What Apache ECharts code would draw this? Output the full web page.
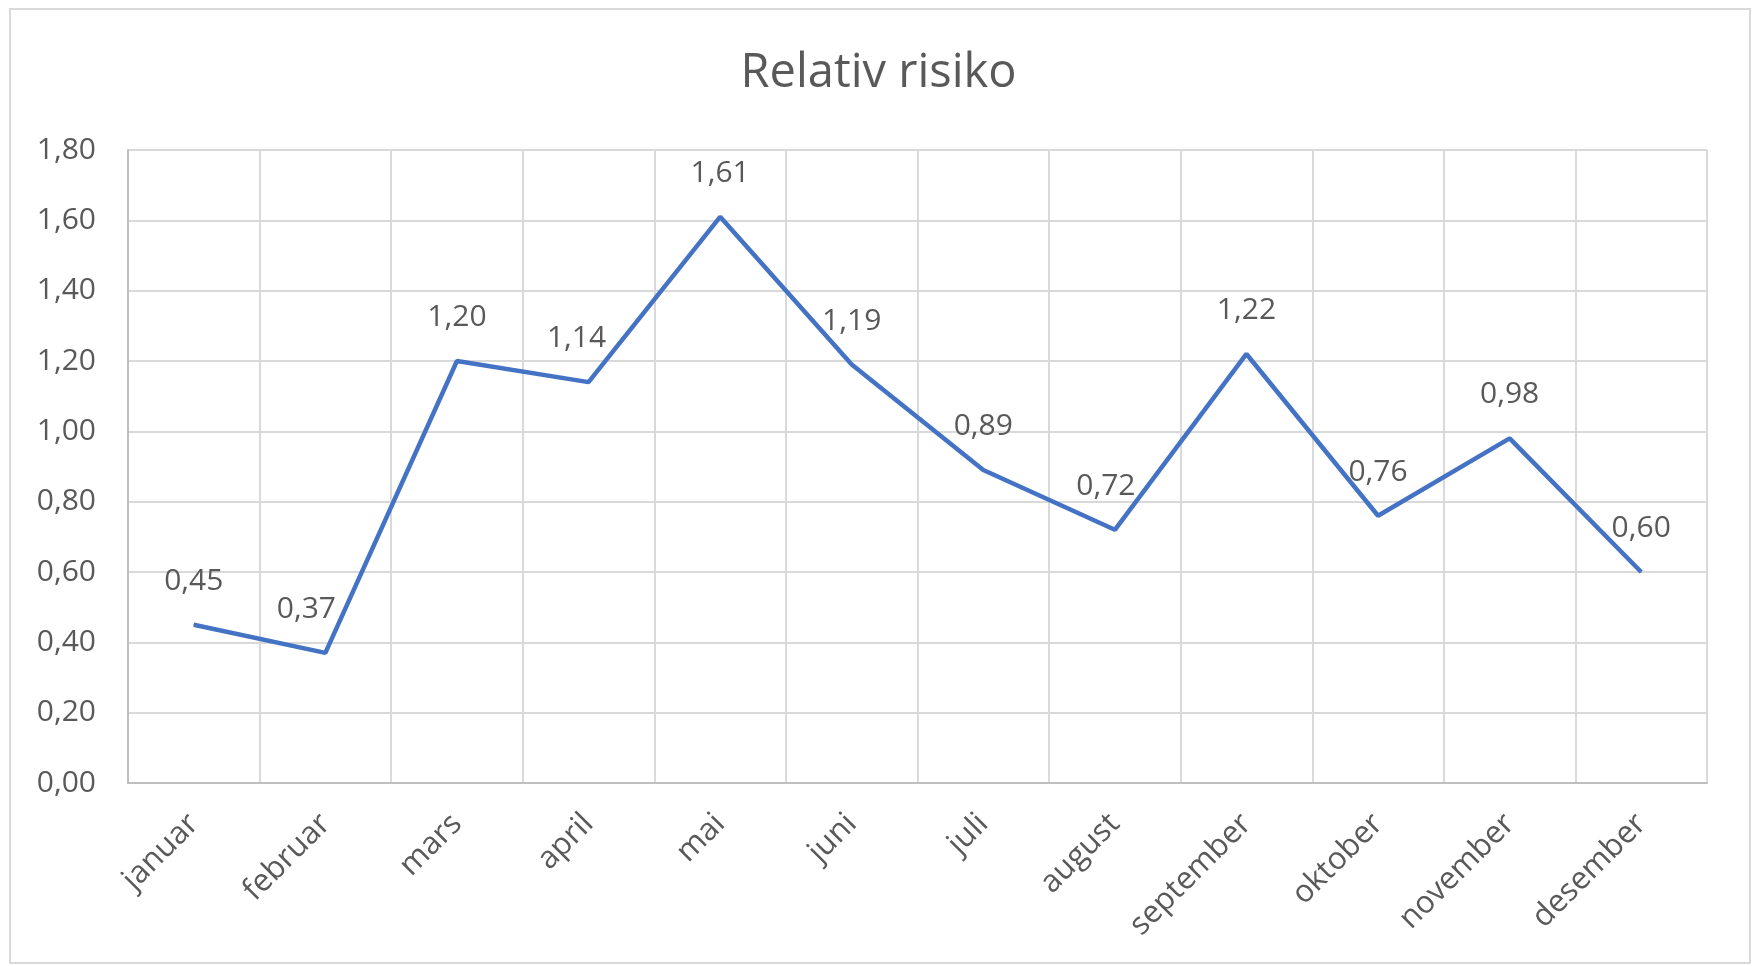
<!DOCTYPE html>
<html>
<head>
<meta charset="utf-8">
<script src="https://cdn.jsdelivr.net/npm/echarts@6/dist/echarts.min.js"></script>
<style>
  html, body { margin: 0; padding: 0; background: #fff; }
  #chart { width: 1757px; height: 966px; }
</style>
</head>
<body>
<div id="chart"></div>
<script>
const months = ["januar", "februar", "mars", "april", "mai", "juni", "juli", "august", "september", "oktober", "november", "desember"]
const risk = [0.45, 0.37, 1.20, 1.14, 1.61, 1.19, 0.89, 0.72, 1.22, 0.76, 0.98, 0.60]

// labels Excel pushed a little to the left
const nudged = { 1: -19, 3: -12, 7: -9 }

const fmt = v => v.toFixed(2).replace(".", ",")
const grey = "#595959"

const chart = echarts.init(document.getElementById("chart"))
chart.setOption({
  animation: false,
  backgroundColor: "#fff",
  textStyle: { fontFamily: "Open Sans" },
  title: {
    text: "Relativ risiko",
    left: "center",
    top: 50,
    padding: 0,
    textStyle: { color: grey, fontSize: 47, fontWeight: "normal", fontFamily: "Open Sans" },
  },
  graphic: [
    {
      type: "rect",
      shape: { x: 10, y: 9, width: 1740, height: 954 },
      style: { fill: "none", stroke: "#d9d9d9", lineWidth: 2 },
      silent: true,
    },
  ],
  grid: { left: 128, right: 50, top: 150, bottom: 183 },
  xAxis: {
    type: "category",
    data: months,
    boundaryGap: true,
    axisLine: { lineStyle: { color: "#bfbfbf", width: 2 } },
    axisTick: { show: false },
    splitLine: { show: true, lineStyle: { color: "#d9d9d9", width: 2 } },
    axisLabel: { rotate: 45, margin: 36, color: grey, fontSize: 31, interval: 0 },
  },
  yAxis: {
    type: "value",
    min: 0,
    max: 1.8,
    interval: 0.2,
    axisLine: { show: true, lineStyle: { color: "#bfbfbf", width: 2 } },
    axisTick: { show: false },
    splitLine: { lineStyle: { color: "#d9d9d9", width: 2 } },
    axisLabel: { margin: 32, color: grey, fontSize: 30, formatter: v => fmt(v) },
  },
  series: [
    {
      type: "line",
      data: risk.map((v, i) => {
        if (nudged[i] === undefined) return v
        return { value: v, label: { offset: [nudged[i], 0] } }
      }),
      symbol: "circle",
      symbolSize: 1,
      lineStyle: { color: "#4472c4", width: 4.5 },
      itemStyle: { color: "#4472c4" },
      label: {
        show: true,
        position: "top",
        distance: 28,
        color: grey,
        fontSize: 30,
        formatter: p => fmt(p.value),
      },
    },
  ],
})
</script>
</body>
</html>
